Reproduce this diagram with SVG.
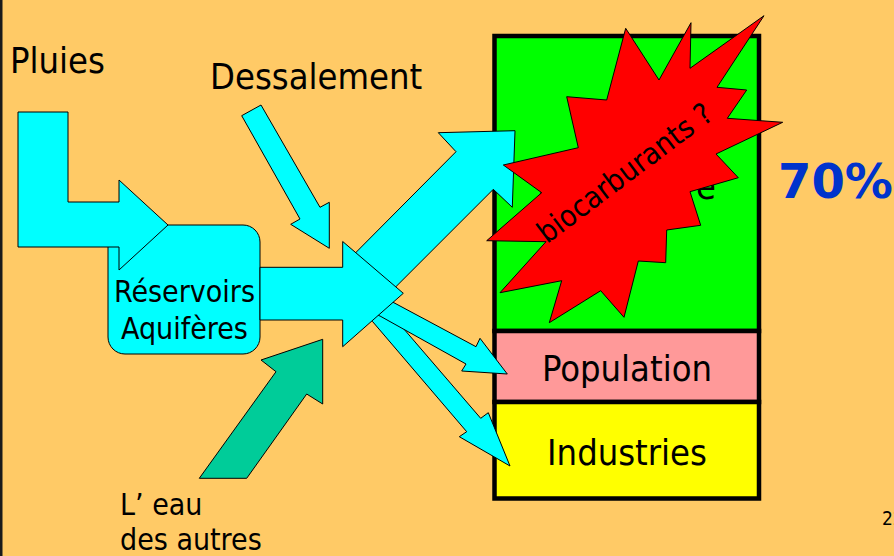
<svg xmlns="http://www.w3.org/2000/svg" width="894" height="556" viewBox="0 0 894 556">
<style>
.t{font-family:'DejaVu Sans Condensed','DejaVu Sans',sans-serif;font-stretch:condensed;fill:#000}
.cy{fill:#00FFFF;stroke:#000;stroke-width:1;stroke-linejoin:miter}
.bx{stroke:#000;stroke-width:4.5}
</style>
<rect x="0" y="0" width="894" height="556" fill="#FFCA66"/>
<rect x="0" y="0" width="2.5" height="556" fill="#1a1a1a"/>

<g id="usage-box">
  <rect class="bx" x="494.5" y="36" width="264.5" height="295" fill="#00FF00"/>
  <rect class="bx" x="494.5" y="331" width="264.5" height="71" fill="#FF9999"/>
  <rect class="bx" x="494.5" y="402" width="264.5" height="96.5" fill="#FFFF00"/>
  <text class="t" x="627" y="199" font-size="36" text-anchor="middle">Agriculture</text>
  <text class="t" x="627" y="381" font-size="36" text-anchor="middle">Population</text>
  <text class="t" x="627" y="465" font-size="36" text-anchor="middle">Industries</text>
</g>

<g id="reservoirs">
  <rect x="108" y="225" width="152" height="129" rx="17" ry="17" fill="#00FFFF" stroke="#000" stroke-width="1"/>
  <text class="t" x="184.5" y="302" font-size="30" text-anchor="middle">Réservoirs</text>
  <text class="t" x="184.5" y="339" font-size="30" text-anchor="middle">Aquifères</text>
</g>

<g id="connectors">
  <polygon id="arrow-pluies" class="cy" points="18,112 68,112 68,202 119,202 119,180 168,225 119,270 119,247 18,247"/>
  <polygon id="arrow-dessalement" class="cy" points="241.7,115.7 261,105 320,207.3 329.3,202.3 329.3,248.3 290.7,224.3 300,219"/>
  <polygon id="arrow-agri" class="cy" points="350,258.4 456,151.7 438.3,132.7 515,130.7 512.3,207.3 493.3,189.3 387,295.6"/>
  <polygon id="arrow-industries" class="cy" points="383.8,305.5 403.3,328.3 480.7,418.3 488.3,412.7 510,466 459.3,436.7 466.7,431.7 372.7,321.7 366.2,314.1"/>
  <polygon id="arrow-population" class="cy" points="375,293 395,303.3 476,346.7 480,338.3 507.3,374 461.7,371 466,364 380,316 365,310"/>
  <polygon id="arrow-main" class="cy" points="260,267.3 342.7,267.3 342.7,241.5 403.3,293.3 342.7,346.7 342.7,320 260,320"/>
  <polygon id="arrow-autres" fill="#00CC99" stroke="#000" stroke-width="1" points="199.3,478.3 276,371.7 261,360 322.7,339.3 322.7,404 306.7,394 246.7,478.3"/>
</g>

<g id="biocarburants">
  <polygon fill="#FF0000" stroke="#000" stroke-width="1" points="625.7,28.3 659,80 691,22.7 690,68.3 764,15.7 717,87.3 746.7,90 727.3,118.3 782.7,122.3 716,154 738.3,177.7 690,191.7 700.7,225.3 666.7,230 665.7,262.7 638.3,261 624,317.3 600.7,290.7 549.3,322.7 561.7,280.7 500,292.7 546,241.7 486.7,240.7 541.7,192.7 503.3,165 578.3,147.7 566.7,96.7 606.7,100"/>
  <text class="t" x="631" y="181" font-size="30" text-anchor="middle" transform="rotate(-37 631 181)">biocarburants ?</text>
</g>

<g id="labels">
  <text class="t" x="10" y="73" font-size="36">Pluies</text>
  <text class="t" x="210" y="89" font-size="36">Dessalement</text>
  <text class="t" x="120" y="515" font-size="30">L’ eau</text>
  <text class="t" x="120" y="550" font-size="30">des autres</text>
  <text x="778" y="198" font-family="'DejaVu Sans',sans-serif" font-weight="bold" font-size="48" fill="#0033CC">70%</text>
  <text class="t" x="882" y="525" font-size="19">22</text>
</g>
</svg>
